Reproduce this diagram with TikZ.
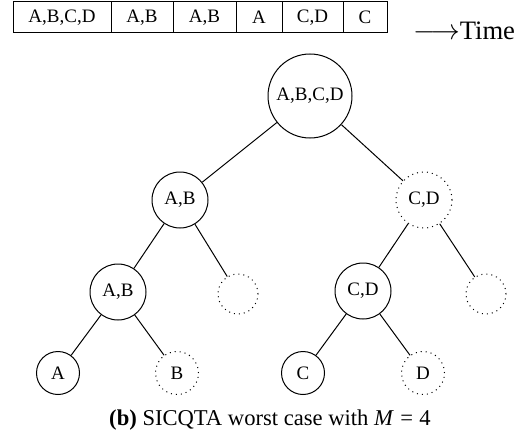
\documentclass[tikz,border=0pt]{standalone}
\usepackage{fontspec}
\setmainfont{Liberation Serif}
\begin{document}
\begin{tikzpicture}[x=0.5pt,y=-0.5pt,
  cell/.style={draw,line width=0.5pt,minimum height=15.5pt,inner sep=0pt,font=\fontsize{9.5}{11}\selectfont},
  tn/.style={circle,draw,line width=0.5pt,inner sep=0pt,font=\fontsize{9.5}{11}\selectfont},
  dn/.style={tn,dotted},
  big/.style={minimum size=42pt},
  mid/.style={minimum size=28pt},
  sml/.style={minimum size=20pt},
  leaf/.style={minimum size=21.5pt},
  edge/.style={line width=0.5pt}]
\useasboundingbox (0,0) rectangle (517,438);
% time slots
\node[cell,minimum width=49pt] (s1) at (62,17.5) {A,B,C,D};
\node[cell,minimum width=31pt] (s2) at (142,17.5) {A,B};
\node[cell,minimum width=31.5pt] (s3) at (204.5,17.5) {A,B};
\node[cell,minimum width=23pt] (s4) at (259,17.5) {A};
\node[cell,minimum width=30.5pt] (s5) at (312.5,17.5) {C,D};
\node[cell,minimum width=22pt] (s6) at (365,17.5) {C};
\node[font=\fontsize{13.3}{15}\selectfont,inner sep=0pt,anchor=base west] (time) at (413,40) {$\longrightarrow$Time};
% tree
\node[tn,big] (r) at (310,96) {A,B,C,D};
\node[tn,mid] (l) at (180,200) {A,B};
\node[dn,mid] (rr) at (424,200) {C,D};
\node[tn,mid] (ll) at (118,292) {A,B};
\node[dn,sml] (lr) at (238,294) {};
\node[tn,mid] (rl) at (363,291) {C,D};
\node[dn,sml] (rrr) at (486,294) {};
\node[tn,leaf] (a) at (58,373) {A};
\node[dn,leaf] (b) at (177,373) {B};
\node[tn,leaf] (c) at (303,373) {C};
\node[dn,leaf] (d) at (423,373) {D};
\draw[edge] (r) -- (l);
\draw[edge] (r) -- (rr);
\draw[edge] (l) -- (ll);
\draw[edge] (l) -- (lr);
\draw[edge] (rr) -- (rl);
\draw[edge] (rr) -- (rrr);
\draw[edge] (ll) -- (a);
\draw[edge] (ll) -- (b);
\draw[edge] (rl) -- (c);
\draw[edge] (rl) -- (d);
\node[font=\fontsize{11.3}{13}\selectfont,inner sep=0pt] (cap) at (270,420) {\textbf{(b)} SICQTA worst case with \textit{M}\hspace{0.28em}=\hspace{0.28em}4};
\end{tikzpicture}
\end{document}
